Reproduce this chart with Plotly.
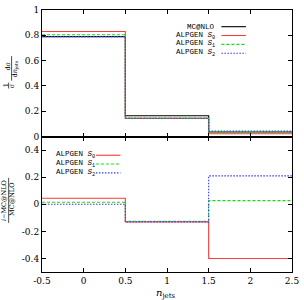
import plotly.graph_objects as go

# ---- data ----
bin_edges = [-0.5, 0.5, 1.5, 2.5]
mcnlo = [0.79, 0.165, 0.036]
alp_s0 = [0.83, 0.144, 0.022]
alp_s1 = [0.805, 0.146, 0.037]
alp_s2 = [0.79, 0.145, 0.044]
ratio_s0 = [0.045, -0.13, -0.40]
ratio_s1 = [0.015, -0.125, 0.027]
ratio_s2 = [0.0, -0.13, 0.21]
x_ticks = [-0.5, 0, 0.5, 1, 1.5, 2, 2.5]
x_ticklabels = ["-0.5", "0", "0.5", "1", "1.5", "2", "2.5"]
top_ticks = [0, 0.2, 0.4, 0.6, 0.8, 1]
top_ticklabels = ["0", "0.2", "0.4", "0.6", "0.8", "1"]
bot_ticks = [-0.4, -0.2, 0, 0.2, 0.4]
bot_ticklabels = ["-0.4", "-0.2", "0", "0.2", "0.4"]

RED = "#ff3838"
GREEN = "#10e010"
BLUE = "#3838ff"
BLACK = "#000000"
DASH = "3px,2px"
DOT = "1.5px,1.5px"


def step(vals):
    return list(vals) + [vals[-1]]


fig = go.Figure()
top_series = [
    (mcnlo, BLACK, "solid"),
    (alp_s0, RED, "solid"),
    (alp_s1, GREEN, DASH),
    (alp_s2, BLUE, DOT),
]
for vals, col, dash in top_series:
    fig.add_trace(go.Scatter(x=bin_edges, y=step(vals), mode="lines",
                             line=dict(color=col, width=1.1, dash=dash, shape="hv"),
                             xaxis="x2", yaxis="y2", showlegend=False, hoverinfo="skip"))
bot_series = [
    (ratio_s0, RED, "solid"),
    (ratio_s1, GREEN, DASH),
    (ratio_s2, BLUE, DOT),
]
for vals, col, dash in bot_series:
    fig.add_trace(go.Scatter(x=bin_edges, y=step(vals), mode="lines",
                             line=dict(color=col, width=1.1, dash=dash, shape="hv"),
                             xaxis="x", yaxis="y", showlegend=False, hoverinfo="skip"))

tickfont = dict(family="DejaVu Serif", size=9, color="black")
W, H = 304, 300
ml, mr, mt, mb = 42, 7, 5, 28
split = 138 / 267

axcommon = dict(showgrid=False, zeroline=False, showline=True, linecolor="black",
                linewidth=1, mirror="ticks", ticks="inside", ticklen=4,
                tickcolor="black", tickfont=tickfont)

fig.update_layout(
    width=W, height=H,
    margin=dict(l=ml, r=mr, t=mt, b=mb),
    paper_bgcolor="white", plot_bgcolor="white",
    xaxis=dict(range=[-0.5, 2.5], tickvals=x_ticks, ticktext=x_ticklabels,
               domain=[0, 1], anchor="y", ticklabeloverflow="allow", **axcommon),
    xaxis2=dict(range=[-0.5, 2.5], tickvals=x_ticks, showticklabels=False,
                domain=[0, 1], anchor="y2", **axcommon),
    yaxis=dict(range=[-0.5, 0.5], tickvals=bot_ticks, ticktext=bot_ticklabels,
               domain=[0, split], anchor="x", **axcommon),
    yaxis2=dict(range=[0, 1], tickvals=top_ticks, ticktext=top_ticklabels,
                domain=[split, 1], anchor="x2", **axcommon),
)


# helper: convert pixel coords to paper coords
def px(x):
    return (x - ml) / (W - ml - mr)


def py(y):
    return (H - mb - y) / (H - mt - mb)


ann = []
shapes = []
legfont = dict(family="Liberation Mono", size=7.5, color="black")

# top legend
top_leg = [("MC@NLO", "", BLACK, "solid"), ("ALPGEN ", "0", RED, "solid"),
           ("ALPGEN ", "1", GREEN, DASH), ("ALPGEN ", "2", BLUE, DOT)]
for i, (lab, sub, col, dash) in enumerate(top_leg):
    yy = 22 + i * 9
    txt = lab if not sub else lab + "<i>S</i><sub>" + sub + "</sub>"
    ann.append(dict(x=px(221), y=py(yy), xref="paper", yref="paper", text=txt,
                    showarrow=False, xanchor="right", yanchor="middle", font=legfont))
    shapes.append(dict(type="line", xref="paper", yref="paper", x0=px(225), x1=px(250),
                       y0=py(yy), y1=py(yy), line=dict(color=col, width=1.1, dash=dash)))

# bottom legend
bot_leg = [("0", RED, "solid"), ("1", GREEN, DASH), ("2", BLUE, DOT)]
for i, (sub, col, dash) in enumerate(bot_leg):
    yy = 153 + i * 9
    ann.append(dict(x=px(54), y=py(yy), xref="paper", yref="paper",
                    text="ALPGEN <i>S</i><sub>" + sub + "</sub>",
                    showarrow=False, xanchor="left", yanchor="middle", font=legfont))
    shapes.append(dict(type="line", xref="paper", yref="paper", x0=px(97), x1=px(122),
                       y0=py(yy), y1=py(yy), line=dict(color=col, width=1.1, dash=dash)))

# x-axis title
ann.append(dict(x=px(168), y=py(294), xref="paper", yref="paper",
                text="<i>n</i><sub>jets</sub>", showarrow=False, yanchor="middle",
                font=dict(family="DejaVu Serif", size=10, color="black")))

lblfont = dict(family="DejaVu Serif", size=6.5, color="black")


def rot(x, y, text):
    ann.append(dict(x=px(x), y=py(y), xref="paper", yref="paper", text=text,
                    showarrow=False, textangle=-90, xanchor="center", yanchor="middle",
                    font=lblfont))


def vbar(x, y0, y1):
    shapes.append(dict(type="line", xref="paper", yref="paper", x0=px(x), x1=px(x),
                       y0=py(y0), y1=py(y1), line=dict(color="black", width=0.7)))


# top y label: 1/sigma dsigma/dn_jets
rot(5, 82, "1")
vbar(8, 79, 85)
rot(11, 82, "σ")
rot(7, 62, "dσ")
vbar(11, 52, 77)
rot(15, 65, "d<i>n</i><sub>jets</sub>")

# bottom y label
rot(4, 199, "<i>i</i>−MC@NLO")
vbar(8, 176, 222)
rot(12, 198, "MC@NLO")

fig.update_layout(annotations=ann, shapes=shapes)
fig.write_html("out.html", config={"displayModeBar": False},
               post_script="document.body.style.margin='0';document.body.style.overflow='hidden';")
